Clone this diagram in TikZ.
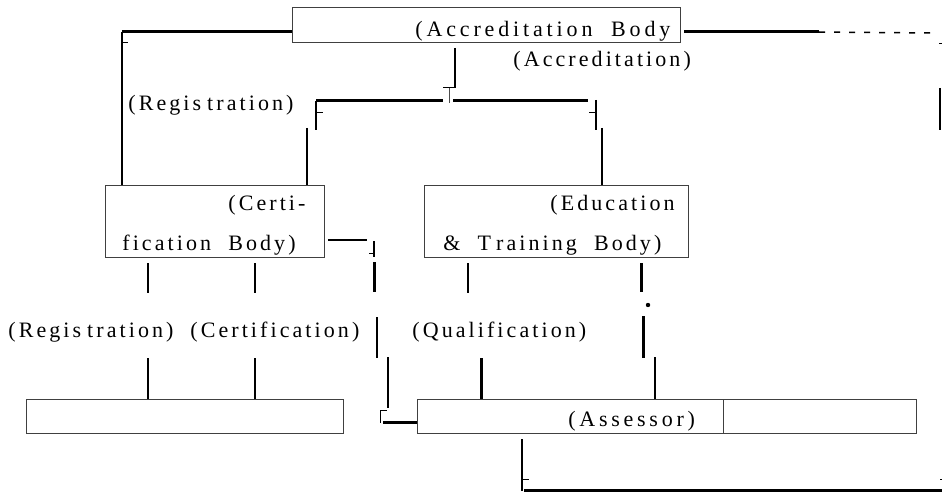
\documentclass[tikz,border=0pt]{standalone}
\usepackage{fontspec}
\setmainfont{Liberation Serif}[LetterSpace=14,WordSpace=2]
\usetikzlibrary{positioning}
\tikzstyle{body}=[draw=black!75, line width=0.5pt, inner sep=0pt, outer sep=0pt]
\tikzstyle{tag}=[inner sep=0pt, anchor=base west]
\tikzstyle{link}=[line width=1pt]
\tikzstyle{heavy}=[line width=1.5pt]
\tikzstyle{tick}=[line width=0.5pt]
\tikzstyle{hint}=[line width=0.75pt, dash pattern=on 3pt off 4.5pt]

\begin{document}
\begin{tikzpicture}[x=0.5pt,y=-0.5pt,font=\fontsize{11}{13}\selectfont]
    \useasboundingbox (0,0) rectangle (942,492);
    % boxes
    \node [body, minimum width=194pt, minimum height=17.5pt] (acc) at (486,25.5) {};
    \node [body, minimum width=109.5pt, minimum height=36pt] (cert) at (214.5,221) {};
    \node [body, minimum width=132pt, minimum height=36pt] (edu) at (556,221) {};
    \node [body, minimum width=158.5pt, minimum height=17pt] (reg) at (184.5,416) {};
    \node [body, minimum width=153pt, minimum height=17pt] (ass) at (570,416) {};
    \node [body, minimum width=96.5pt, minimum height=17pt] (ass2) [right=0pt of ass] {};
    % texts
    \node [tag] (acctxt) at (415,37) {\addfontfeature{LetterSpace=17.5}(Accreditation Body};
    \node [tag] (acclab) at (513,67) {(Accreditation)};
    \node [tag] (reglab) at (128,111) {(Regis\kern3pt tration)};
    \node [tag] (certtxt) at (228,210) {(Certi-};
    \node [tag] (certtxt2) at (122,250) {fication Body)};
    \node [tag] (edutxt) at (550,210) {(Education};
    \node [tag] (edutxt2) at (443,250) {\& T\kern2.5pt raining Body)};
    \node [tag] (reglab2) at (8,337) {(Regis\kern3pt tration)};
    \node [tag] (certlab) at (190,337) {(Certification)};
    \node [tag] (quallab) at (412,337) {(Qualification)};
    \node [tag] (asstxt) at (568,426) {\addfontfeature{LetterSpace=17}(Assessor)};
    % junctions
    \coordinate (tl) at (122,32);
    \coordinate (tltick) at (128,43);
    \coordinate (trA) at (684,32);
    \coordinate (trB) at (819,32);
    \coordinate (trC) at (932,33);
    \coordinate (trD) at (940,88);
    \coordinate (trE) at (940,130);
    \coordinate (accOut) at (455,48);
    \coordinate (accJoin) at (455,88);
    \coordinate (split) at (449,103);
    \coordinate (midL) at (316,101);
    \coordinate (midA) at (443,101);
    \coordinate (midB) at (453,101);
    \coordinate (midR) at (588,101);
    \coordinate (certDrop) at (316,130);
    \coordinate (certIn) at (307,128);
    \coordinate (eduTop) at (596,100);
    \coordinate (eduDrop) at (596,130);
    \coordinate (eduIn) at (602,128);
    \coordinate (sideA) at (328,240);
    \coordinate (sideB) at (367,240);
    \coordinate (sideC) at (374,241);
    \coordinate (sideD) at (374,257);
    \coordinate (sideE) at (374,262);
    \coordinate (sideF) at (374,292);
    \coordinate (sideG) at (377,317);
    \coordinate (sideH) at (377,358);
    \coordinate (sideI) at (388,357);
    \coordinate (sideJ) at (388,408);
    \coordinate (sideK) at (380,423);
    \coordinate (sideL) at (380,410);
    \coordinate (sideM) at (383,422);
    \coordinate (regA) at (148,263);
    \coordinate (regB) at (148,293);
    \coordinate (regC) at (148,358);
    \coordinate (cerA) at (255,263);
    \coordinate (cerB) at (255,293);
    \coordinate (cerC) at (255,358);
    \coordinate (quaA) at (468,263);
    \coordinate (quaB) at (468,293);
    \coordinate (quaC) at (481,358);
    \coordinate (eduA) at (641,263);
    \coordinate (eduB) at (641,292);
    \coordinate (dot) at (648,305);
    \coordinate (eduC) at (643,316);
    \coordinate (eduD) at (643,358);
    \coordinate (eduE) at (655,357);
    \coordinate (botA) at (522,439);
    \coordinate (botB) at (522,491);
    \coordinate (botC) at (524,490);
    \coordinate (botD) at (942,490);
    % connectors
    \path[heavy]
    (tl) edge (tl -| acc.west)
    (trA) edge (trB)
    (midL) edge (midA)
    (midB) edge (midR)
    (sideE) edge (sideF)
    (sideM) edge (sideM -| ass.west)
    (quaC) edge (quaC |- ass.north)
    (eduA) edge (eduB)
    (eduC) edge (eduD)
    (botC) edge (botD);
    \path[link]
    (tl) edge (tl |- cert.north)
    (accOut) edge (accJoin)
    (midL) edge (certDrop)
    (certIn) edge (certIn |- cert.north)
    (eduTop) edge (eduDrop)
    (eduIn) edge (eduIn |- edu.north)
    (trD) edge (trE)
    (sideA) edge (sideB)
    (sideC) edge (sideD)
    (sideG) edge (sideH)
    (sideI) edge (sideJ)
    (regA) edge (regB)
    (regC) edge (regC |- reg.north)
    (cerA) edge (cerB)
    (cerC) edge (cerC |- reg.north)
    (quaA) edge (quaB)
    (eduE) edge (eduE |- ass.north)
    (botA) edge (botB);
    \path[hint] (trB) edge (trC);
    \draw[tick] (tl |- tltick) -- (tltick);
    \draw[tick] (accJoin) -- ++(-12,0);
    \draw[tick, black!70] (split |- accJoin) -- (split);
    \draw[tick] (midL |- 0,113) -- ++(7,0);
    \draw[tick] (eduTop |- 0,113) -- ++(-7,0);
    \draw[tick] (sideC |- 0,253) -- ++(-5,0);
    \draw[tick] (sideK) -- (sideL) -- ++(7,0);
    \draw[tick] (botA |- 0,479) -- ++(7,0);
    \draw[tick] (939,44) -- (942,44);
    \draw[tick] (940,479) -- (942,479);
    \fill (dot) circle (1.1pt);
\end{tikzpicture}
\end{document}
